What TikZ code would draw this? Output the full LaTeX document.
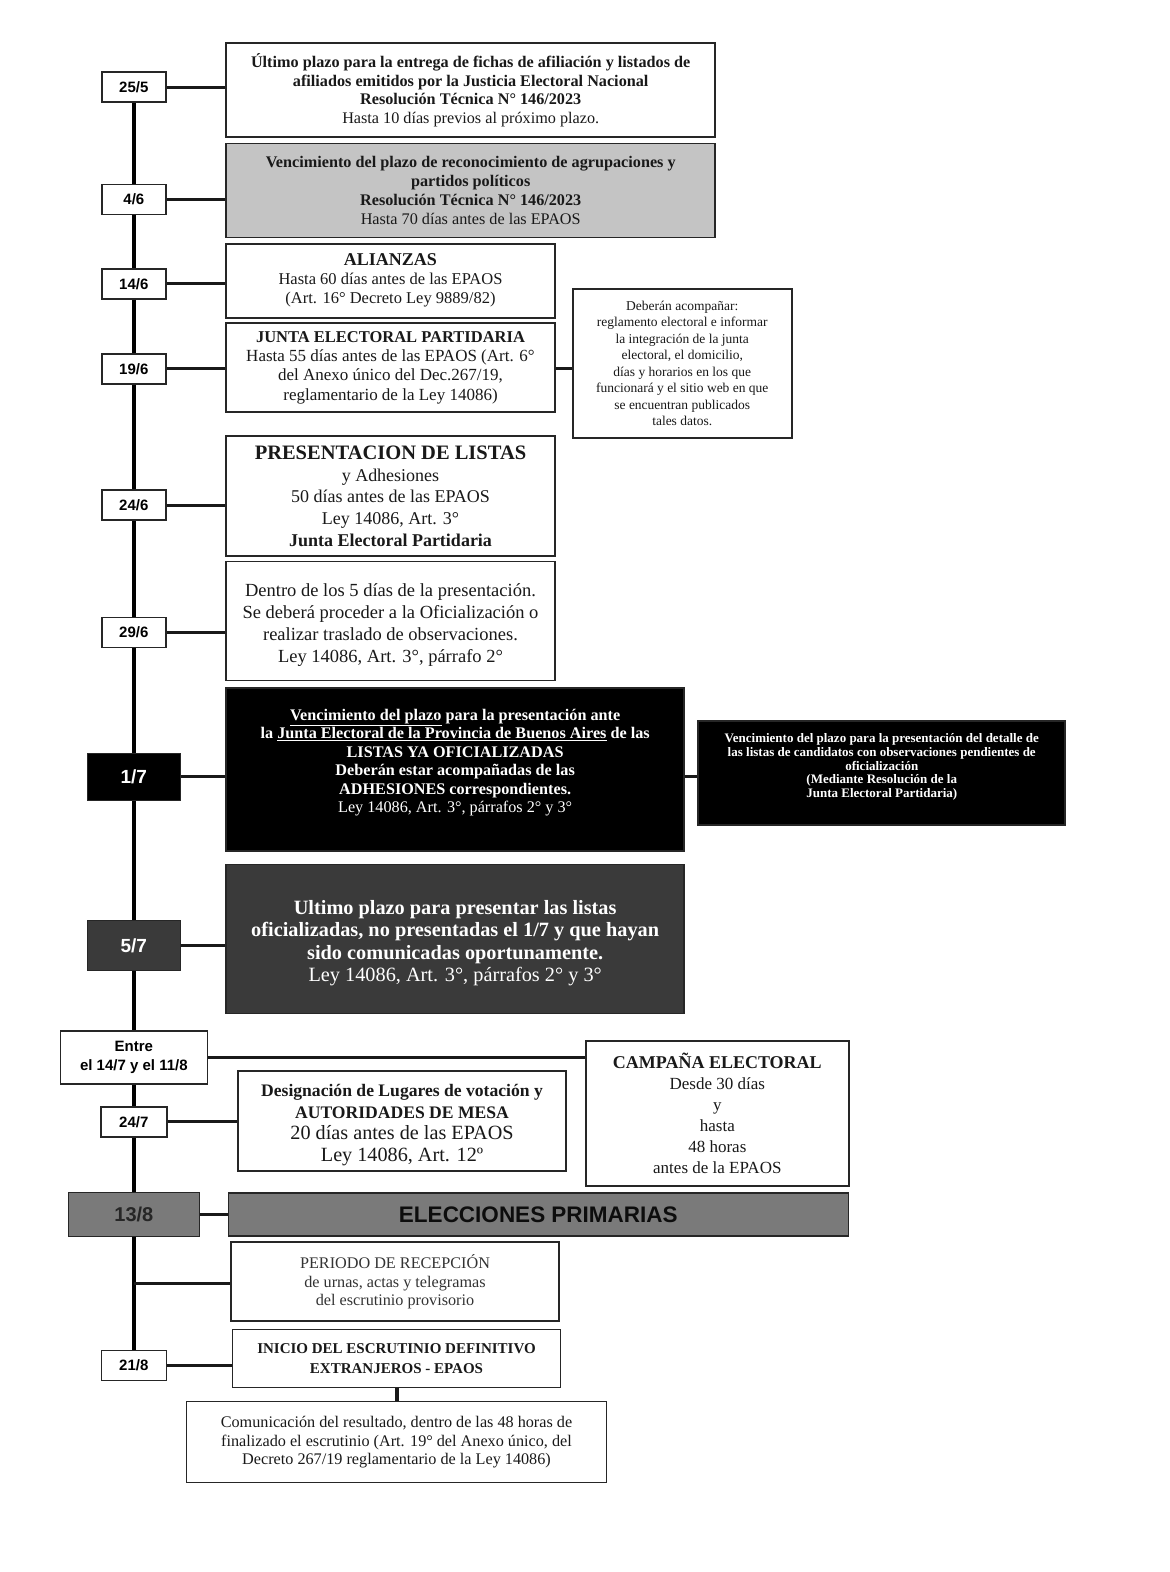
\documentclass[tikz,border=0pt]{standalone}
\usepackage{fontspec}
\setmainfont{Liberation Serif}
\newfontfamily\arialf{Liberation Sans}
\newcommand\fsz[2]{\fontsize{#1}{#2}\selectfont}
\definecolor{lightgray}{HTML}{C4C4C4}
\definecolor{darkbox}{HTML}{3A3A3A}
\definecolor{midgray}{HTML}{7A7A7A}
\begin{document}
\begin{tikzpicture}[x=1.0026pt,y=-1.0026pt,
  box/.style={draw=black!85,line width=1.6pt,fill=white,align=center,inner sep=0pt,text=black!90},
  boxtext/.style={align=center,inner sep=0pt},
  datebox/.style={draw=black!85,line width=1.6pt,fill=white,inner sep=0pt,align=center,
     font=\arialf\bfseries\fsz{15}{18.5},minimum width=64pt,minimum height=30pt},
  conn/.style={line width=3pt,black!90},
  vline/.style={line width=3.6pt,black}]
\useasboundingbox (0,0) rectangle (1167,1568);
\fill[white] (0,0) rectangle (1167,1568);

% date boxes
\node[datebox] (d1) at (133.5,87) {25/5};
\node[datebox] (d2) at (133.5,199) {4/6};
\node[datebox] (d3) at (133.5,283) {14/6};
\node[datebox] (d4) at (133.5,368) {19/6};
\node[datebox] (d5) at (133.5,504) {24/6};
\node[datebox] (d6) at (133.5,631) {29/6};
\node[datebox,fill=black,text=white,minimum width=93pt,minimum height=47pt,font=\arialf\bfseries\fsz{19}{22}] (d7) at (133.5,775) {1/7};
\node[datebox,fill=darkbox,text=white,minimum width=93pt,minimum height=50pt,font=\arialf\bfseries\fsz{19}{22}] (d8) at (133.5,943) {5/7};
\node[datebox,minimum width=147pt,minimum height=53pt,font=\arialf\bfseries\fsz{15}{19}] (d9) at (133.5,1055) {Entre\\el 14/7 y el 11/8};
\node[datebox,minimum width=66pt] (d10) at (133.5,1119) {24/7};
\node[datebox,fill=midgray,text=black!85,minimum width=131pt,minimum height=44pt,font=\arialf\bfseries\fsz{20}{24}] (d11) at (133.5,1211.5) {13/8};
\node[datebox,minimum width=65pt] (d12) at (133.5,1362) {21/8};
\coordinate (j1) at (133.5,1280);

% main line
\draw[vline] (d1) -- (d2);
\draw[vline] (d2) -- (d3);
\draw[vline] (d3) -- (d4);
\draw[vline] (d4) -- (d5);
\draw[vline] (d5) -- (d6);
\draw[vline] (d6) -- (d7);
\draw[vline] (d7) -- (d8);
\draw[vline] (d8) -- (d9);
\draw[vline] (d9) -- (d10);
\draw[vline] (d10) -- (d11);
\draw[vline] (d11) -- (d12);

% event boxes
\node[box,minimum width=489pt,minimum height=94pt,font=\fsz{16.2}{18.7}] (b1) at (469.5,90)
 {\textbf{Último plazo para la entrega de fichas de afiliación y listados de}\\
  \textbf{afiliados emitidos por la Justicia Electoral Nacional}\\
  \textbf{Resolución Técnica N° 146/2023}\\
  Hasta 10 días previos al próximo plazo.};
\node[box,fill=lightgray,minimum width=489pt,minimum height=94pt,font=\fsz{16.2}{18.7}] (b2) at (469.5,190)
 {\textbf{Vencimiento del plazo de reconocimiento de agrupaciones y}\\
  \textbf{partidos políticos}\\
  \textbf{Resolución Técnica N° 146/2023}\\
  Hasta 70 días antes de las EPAOS};
\node[box,minimum width=329pt,minimum height=74pt,font=\fsz{16.5}{19}] (b3) at (389.5,280)
 {\fsz{18}{19}\bfseries ALIANZAS\\
  Hasta 60 días antes de las EPAOS\\
  (Art. 16° Decreto Ley 9889/82)};
\node[box,minimum width=329pt,minimum height=89pt,font=\fsz{17}{19.3}] (b4) at (389.5,366.5)
 {\fsz{16.5}{19}\bfseries JUNTA ELECTORAL PARTIDARIA\\
  Hasta 55 días antes de las EPAOS (Art. 6°\\
  del Anexo único del Dec.267/19,\\
  reglamentario de la Ley 14086)};
\node[box,minimum width=219pt,minimum height=149pt,font=\fsz{13.5}{16.5}] (r1) at (680.5,362.5)
 {Deberán acompañar:\\
  reglamento electoral e informar\\
  la integración de la junta\\
  electoral, el domicilio,\\
  días y horarios en los que\\
  funcionará y el sitio web en que\\
  se encuentran publicados\\
  tales datos.};
\node[box,minimum width=329pt,minimum height=120pt,font=\fsz{18}{21.8}] (b5) at (389.5,495)
 {\fsz{20.5}{23}\bfseries PRESENTACION DE LISTAS\\
  y Adhesiones\\
  50 días antes de las EPAOS\\
  Ley 14086, Art. 3°\\
  \textbf{Junta Electoral Partidaria}};
\node[box,minimum width=329pt,minimum height=119pt] (b6) at (389.5,619.5) {};
\node[boxtext,font=\fsz{18.5}{21.7},text=black!90] (b6t) at ([yshift=-4pt]b6.center)
 {Dentro de los 5 días de la presentación.\\
  Se deberá proceder a la Oficialización o\\
  realizar traslado de observaciones.\\
  Ley 14086, Art. 3°, párrafo 2°};
\node[box,fill=black,minimum width=458pt,minimum height=163pt] (b7) at (454,767.5) {};
\node[boxtext,text=white,font=\fsz{16.2}{18.5}] (b7t) at ([yshift=7pt]b7.center)
 {\textbf{\underline{Vencimiento del plazo} para la presentación ante}\\
  \textbf{la \underline{Junta Electoral de la Provincia de Buenos Aires} de las}\\
  \textbf{LISTAS YA OFICIALIZADAS}\\
  \textbf{Deberán estar acompañadas de las}\\
  \textbf{ADHESIONES correspondientes.}\\
  Ley 14086, Art. 3°, párrafos 2° y 3°};
\node[box,fill=black,minimum width=367pt,minimum height=104pt] (r2) at (879.5,771) {};
\node[boxtext,text=white,font=\fsz{13}{13.8}\bfseries] (r2t) at ([yshift=6pt]r2.center)
 {Vencimiento del plazo para la presentación del detalle de\\
  las listas de candidatos con observaciones pendientes de\\
  oficialización\\
  (Mediante Resolución de la\\
  Junta Electoral Partidaria)};
\node[box,fill=darkbox,minimum width=458pt,minimum height=149pt] (b8) at (454,936.5) {};
\node[boxtext,text=white,font=\fsz{20.3}{22.5}] (b8t) at ([yshift=-4pt]b8.center)
 {\textbf{Ultimo plazo para presentar las listas}\\
  \textbf{oficializadas, no presentadas el 1/7 y que hayan}\\
  \textbf{sido comunicadas oportunamente.}\\
  Ley 14086, Art. 3°, párrafos 2° y 3°};
\node[box,minimum width=263pt,minimum height=145pt,font=\fsz{17}{21}] (c1) at (715.5,1110.5)
 {\fsz{18}{21}\bfseries CAMPAÑA ELECTORAL\\
  Desde 30 días\\
  y\\
  hasta\\
  48 horas\\
  antes de la EPAOS};
\node[box,minimum width=328pt,minimum height=100pt] (b9) at (401,1118) {};
\node[boxtext,text=black!90,font=\fsz{20.2}{21.5}] (b9t) at ([yshift=-4pt]b9.center)
 {\fsz{17.6}{21.5}\bfseries Designación de Lugares de votación y\\
  \fsz{17.6}{21.5}\bfseries AUTORIDADES DE MESA\\
  20 días antes de las EPAOS\\
  Ley 14086, Art. 12º};
\node[box,fill=midgray,text=black!95,minimum width=620pt,minimum height=43pt,font=\arialf\bfseries\fsz{22.5}{26}] (e1) at (537,1211.5)
 {ELECCIONES PRIMARIAS};
\node[box,text=black!80,minimum width=328pt,minimum height=79pt,font=\fsz{16.2}{18.8}] (b10) at (394,1278.5)
 {PERIODO DE RECEPCIÓN\\
  de urnas, actas y telegramas\\
  del escrutinio provisorio};
\node[box,minimum width=328pt,minimum height=58pt,font=\fsz{15}{19.5}\bfseries] (b11) at (395.5,1355)
 {INICIO DEL ESCRUTINIO DEFINITIVO\\
  EXTRANJEROS - EPAOS};
\node[box,minimum width=420pt,minimum height=81pt,font=\fsz{16.2}{18.8}] (b12) at (395.5,1438.5)
 {Comunicación del resultado, dentro de las 48 horas de\\
  finalizado el escrutinio (Art. 19° del Anexo único, del\\
  Decreto 267/19 reglamentario de la  Ley 14086)};

% connectors
\draw[conn] (d1.east) -- (d1.east -| b1.west);
\draw[conn] (d2.east) -- (d2.east -| b2.west);
\draw[conn] (d3.east) -- (d3.east -| b3.west);
\draw[conn] (d4.east) -- (d4.east -| b4.west);
\draw[conn] (b4.east |- d4) -- (r1.west |- d4);
\draw[conn] (d5.east) -- (d5.east -| b5.west);
\draw[conn] (d6.east) -- (d6.east -| b6.west);
\draw[conn] (d7.east) -- (d7.east -| b7.west);
\draw[conn] (b7.east |- d7) -- (r2.west |- d7);
\draw[conn] (d8.east) -- (d8.east -| b8.west);
\draw[conn] (d9.east) -- (d9.east -| c1.west);
\draw[conn] (d10.east) -- (d10.east -| b9.west);
\draw[conn] (d11.east) -- (d11.east -| e1.west);
\draw[conn] (j1) -- (j1 -| b10.west);
\draw[conn] (d12.east) -- (d12.east -| b11.west);
\draw[conn,line width=4pt] (b11.south) -- (b12.north);
\end{tikzpicture}
\end{document}
